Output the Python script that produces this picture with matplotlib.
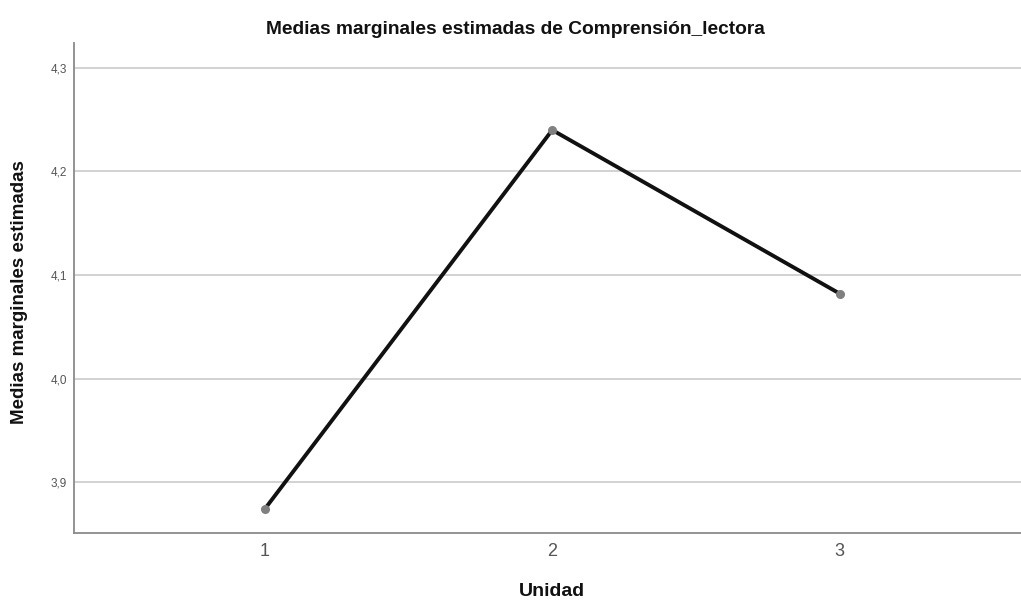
import matplotlib
matplotlib.use("Agg")
import matplotlib.pyplot as plt

unidad = [1, 2, 3]
medias = [3.874, 4.240, 4.082]
yticks = [3.9, 4.0, 4.1, 4.2, 4.3]
ytick_labels = ["3,9", "4,0", "4,1", "4,2", "4,3"]
xtick_labels = ["1", "2", "3"]

plt.rcParams['font.family'] = ['Liberation Sans', 'DejaVu Sans']

fig = plt.figure(figsize=(10.21, 6.01), dpi=100)
ax = fig.add_axes([74/1021, 68/601, 1 - 74/1021, (533-43)/601])

ax.plot(unidad, medias, color='#111111', lw=2.8, zorder=3, solid_capstyle='round')
ax.plot(unidad, medias, 'o', color='#808080', ms=5.5, zorder=4)

ax.set_xlim(0.337, 3.63)
ax.set_ylim(3.851, 4.324)
ax.set_yticks(yticks)
ax.set_yticklabels(ytick_labels, fontsize=8.5, color='#555555')
ax.set_xticks(unidad)
ax.set_xticklabels(xtick_labels, fontsize=13, color='#555555')
ax.tick_params(axis='y', length=0, pad=5)
ax.tick_params(axis='x', length=0, pad=7)
ax.grid(axis='y', color='#d2d2d2', lw=1.4, zorder=0)
for s in ['top', 'right']:
    ax.spines[s].set_visible(False)
for s in ['left', 'bottom']:
    ax.spines[s].set_color('#8a8a8a')
    ax.spines[s].set_linewidth(1.3)

fig.text(515/1021, 1 - 30/601, "Medias marginales estimadas de Comprensión_lectora",
         ha='center', va='center', fontsize=13.8, fontweight='bold', color='#111111')
fig.text(20/1021, 1 - 292/601, "Medias marginales estimadas", rotation=90,
         ha='center', va='center', fontsize=13.5, fontweight='bold', color='#111111')
fig.text(552/1021, 1 - 591/601, "Unidad", ha='center', va='center',
         fontsize=14, fontweight='bold', color='#111111')

fig.savefig("out.png", dpi=100, facecolor='white')
